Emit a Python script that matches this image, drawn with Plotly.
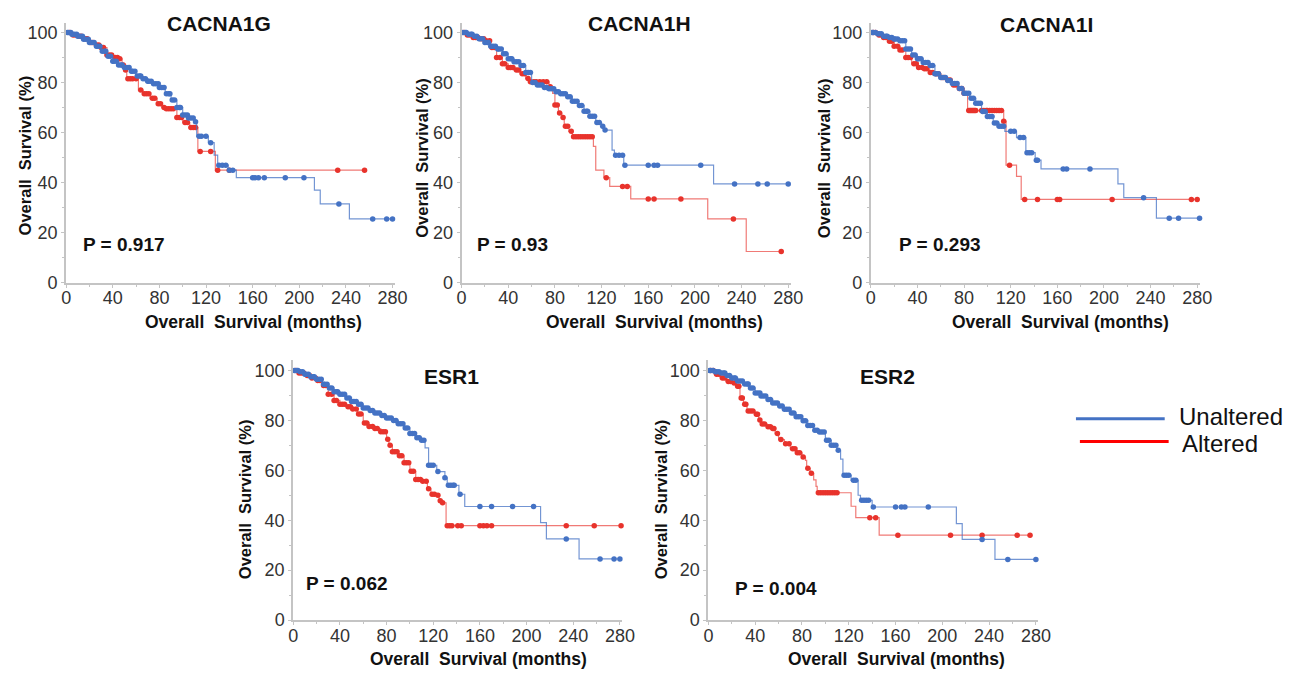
import numpy as np
import plotly.graph_objects as go

W, H = 1299, 680

genes = ["CACNA1G", "CACNA1H", "CACNA1I", "ESR1", "ESR2"]
p_values = ["P = 0.917", "P = 0.93", "P = 0.293", "P = 0.062", "P = 0.004"]
x_ticks = [0, 40, 80, 120, 160, 200, 240, 280]
y_ticks = [0, 20, 40, 60, 80, 100]

# ---------------- CACNA1G ----------------
g_unalt_t = [0,5,10,15,20,25,30,35,40,45,50,55,60,65,70,75,80,85,90,95,100,105,110,112,122,127,130,139,146,213,218,243]
g_unalt_s = [100,99.3,98.5,97.3,96,94.5,92.5,90.5,88.5,87,86,84.5,82.6,81.5,80.5,79.5,78,75.5,73,70,67,65.8,64.3,58.5,56,51,47,45,42,37,31.5,25.5]
g_unalt_c = [1,2,4,5,7,9,10,12,14,15,17,19,20,22,24,26,27,29,31,33,34,36,38,40,41,43,45,47,48,50,52,54,56,57,59,61,63,64,66,68,70,71,73,75,77,79,80,82,84,86,88,89,91,93,95,97,98,100,102,104,105,107,109,111,114,116,120,124,131,134,137,140,143,160,162,165,170,188,204,234,263,275,280]
g_alt_t = [0,5,10,15,20,25,30,35,40,45,48,50,52,62,66,72,78,82,86,95,100,106,113,128]
g_alt_s = [100,99,98.5,97.5,96,95,94,91,90,89.5,87,85,81.5,77,75.5,73.7,71.5,70,69.5,66,64,62,52.5,45]
g_alt_c = [3,6,8,11,13,16,18,21,23,26,28,30,32,35,37,39,42,44,46,49,51,53,55,57,60,64,67,69,71,74,76,79,81,84,86,88,90,92,95,97,99,102,104,107,109,111,115,124,130,140,233,256]

# ---------------- CACNA1H ----------------
h_unalt_t = [0,5,10,15,20,25,30,35,40,45,50,55,60,65,70,75,80,85,90,95,100,105,110,115,120,122,129,131,139,216]
h_unalt_s = [100,99.3,98.5,97.5,96,94.5,93.4,91.5,89.5,88.3,86.8,84,80,79,78,77.5,76.3,75.5,74.3,72.5,70.8,68.5,66.5,64,62.5,61,53,51,47,39.5]
h_unalt_c = [1,3,4,6,8,9,11,13,15,16,18,20,22,23,25,27,29,31,32,34,36,38,40,42,43,45,47,49,51,53,55,57,59,61,63,65,67,69,71,73,75,77,79,81,83,85,87,89,91,93,95,97,99,101,103,105,107,108,110,112,114,116,118,121,123,132,135,138,140,160,165,168,205,234,254,262,280]
h_alt_t = [0,5,10,15,20,25,30,35,40,45,50,55,58,75,78,80,83,86,88,92,95,113,115,122,127,145,211,244]
h_alt_s = [100,99,98,97.5,96.7,94,90,87.5,86,85,83.5,81.6,80.3,78.3,75.7,71,67.8,66,62.5,60.5,58.3,54.5,45,42,38.5,33.5,25.5,12.5]
h_alt_c = [2,5,7,10,12,14,17,19,21,24,26,28,30,33,35,37,40,42,44,47,49,52,54,57,59,62,64,67,70,73,76,80,82,84,87,89,91,94,96,98,100,102,104,106,108,110,112,124,138,142,160,165,188,233,274]

# ---------------- CACNA1I ----------------
i_unalt_t = [0,5,10,15,20,25,30,35,40,45,50,55,60,65,70,75,80,85,90,95,100,105,110,115,125,133,141,146,212,217,245]
i_unalt_s = [100,99.5,98.5,98,97.4,96.7,93.4,91,89.5,88,86.8,83.5,82,80.8,79.6,77.6,75.7,73.7,71.7,68.4,66.4,63.8,62.5,60.5,58,52,49,45.5,39.5,34,25.8]
i_unalt_c = [1,2,4,6,7,9,11,13,14,16,18,20,21,23,25,27,29,30,32,34,36,38,40,41,43,45,47,49,51,53,55,56,58,60,62,64,66,68,70,72,74,76,78,80,82,84,86,88,90,92,94,96,98,100,102,104,106,108,110,112,114,120,123,128,131,134,136,138,142,143,165,168,188,234,256,264,282]
i_alt_t = [0,5,10,15,20,25,30,35,40,45,50,55,60,65,70,75,80,83,114,116,125,129]
i_alt_s = [100,99,98,96.5,94.5,93,90,87.5,86,85.5,84,83.5,82,81,79,77.6,75.7,68.8,64.5,47,42.5,33.3]
i_alt_c = [2,4,7,9,11,13,16,18,20,23,25,27,30,32,34,37,39,41,44,46,48,51,53,56,58,61,63,66,68,71,73,76,78,80,84,85,86,87,88,89,90,95,97,99,100,102,104,106,108,110,112,114,119,132,143,160,162,207,275,280]

# ---------------- ESR1 ----------------
e1_unalt_t = [0,5,10,15,20,25,30,35,40,45,50,55,60,65,70,75,80,85,90,95,100,105,110,113,116,123,130,132,142,147,212,217,245]
e1_unalt_s = [100,99.5,98.5,97.5,96.5,94.5,93,91.5,90.5,89,87.6,86.5,85,84,83,82,81,80,78.7,77,74.7,73,72,69,62,59.5,57,54,50.4,45.5,39,32.5,24.5]
e1_unalt_c = [1,3,4,6,8,10,11,13,15,17,18,20,22,24,26,27,29,31,33,35,37,38,40,42,44,46,48,50,52,54,56,58,60,62,64,66,68,70,72,74,76,78,80,82,84,86,88,90,92,94,96,98,100,102,104,106,108,110,112,116,118,120,124,130,133,135,137,138,143,160,170,188,206,234,263,275,280]
e1_alt_t = [0,5,10,15,20,25,30,35,40,45,50,55,60,65,70,75,80,82,85,90,95,100,105,110,115,118,122,125,128,131]
e1_alt_s = [100,99,98,97,96,94,90.5,88,86.5,85.5,84.6,82.6,79,77.6,76.7,75.4,72.4,70,67.4,65.8,63,59.6,56.3,55.6,52.6,50.4,50,47.8,47,37.8]
e1_alt_c = [2,5,7,9,12,14,16,19,21,23,26,28,30,33,35,37,40,42,44,47,49,51,54,56,58,61,63,65,68,70,72,75,77,79,81,83,85,87,89,91,93,95,97,99,101,103,105,107,109,111,114,116,119,121,124,126,128,132,134,136,141,144,160,163,166,170,234,258,281]

# ---------------- ESR2 ----------------
e2_unalt_t = [0,5,10,15,20,25,30,35,40,45,50,55,60,65,70,75,80,85,90,95,100,105,110,113,115,122,128,130,140,212,217,245]
e2_unalt_s = [100,99.5,99,98,97,95.8,94.6,93,91,89.8,88.4,87,85.8,84.5,83,81.5,79.9,78,76,75.3,72,70,68,64.5,58,56,50,48,45.3,38.6,32.3,24.3]
e2_unalt_c = [1,2,4,6,7,9,11,13,14,16,18,20,22,23,25,27,29,31,33,34,36,38,40,42,44,45,47,49,51,53,55,57,59,61,63,65,67,69,71,73,75,77,79,81,83,85,87,89,91,93,95,97,99,101,103,105,107,109,111,116,118,120,124,126,131,133,135,137,141,160,165,168,188,234,256,280]
e2_alt_t = [0,5,10,15,20,24,27,30,33,40,43,45,50,55,57,60,65,70,75,80,83,84,87,90,92,93,122,126,146]
e2_alt_s = [100,98.5,97,95.6,95,93.7,89,86.5,83.8,82.5,80.2,78.6,77.5,76.7,74.7,72.3,70.6,68.6,67,65.3,64,60.8,58.8,56.2,53.6,51,45.6,41,34]
e2_alt_c = [2,4,7,9,12,14,17,19,22,25,26,28,29,31,32,34,36,38,41,42,44,46,48,51,53,55,56,59,62,66,69,72,74,76,78,81,85,88,94,96,98,100,102,104,106,108,110,138,143,162,207,234,264,275]

panels = [
    (g_unalt_t, g_unalt_s, g_unalt_c, g_alt_t, g_alt_s, g_alt_c),
    (h_unalt_t, h_unalt_s, h_unalt_c, h_alt_t, h_alt_s, h_alt_c),
    (i_unalt_t, i_unalt_s, i_unalt_c, i_alt_t, i_alt_s, i_alt_c),
    (e1_unalt_t, e1_unalt_s, e1_unalt_c, e1_alt_t, e1_alt_s, e1_alt_c),
    (e2_unalt_t, e2_unalt_s, e2_unalt_c, e2_alt_t, e2_alt_s, e2_alt_c),
]

# ---- layout geometry (pixels) ----
# (x of t=0, px per month, y of 0%, px per %)
geom = [
    (62.0, 1.182, 287.0, 2.54),
    (463.0, 1.183, 287.0, 2.54),
    (878.0, 1.182, 287.0, 2.54),
    (292.3, 1.183, 629.3, 2.533),
    (713.3, 1.186, 629.3, 2.533),
]
X_MAX, Y_MAX = 282, 104
title_pos = [(217, 24), (643, 24), (1056, 25), (453, 382), (895, 382)]
xtitle_pos = [(252, 327), (659, 327), (1070, 327), (480, 669), (904, 669)]
ytitle_pos = [(20, 158), (422, 160), (830, 160), (243, 507), (665, 507)]
p_pos = [(77, 248), (477, 248), (905, 248), (303, 592), (738, 597)]

BLUE = "#4472C4"
RED = "#E8332C"
BLUE_LINE = "rgba(68,114,196,0.75)"
RED_LINE = "rgba(232,51,44,0.65)"
FONT = "Liberation Sans, Arial, sans-serif"

fig = go.Figure()
annotations = []
shapes = []

def step_xy(t, s, c):
    t = list(t); s = list(s)
    end = max(c[-1] if c else t[-1], t[-1])
    return t + [end], s + [s[-1]]

def censor_y(t, s, c):
    idx = np.searchsorted(np.array(t, dtype=float), np.array(c, dtype=float), side="right") - 1
    return [s[i] for i in idx]

axis_common = dict(
    showline=True, linecolor="#c4c4c4", linewidth=2, showgrid=False, zeroline=False,
    ticks="outside", ticklen=3, tickwidth=1, tickcolor="#c4c4c4",
    tickfont=dict(family=FONT, size=18, color="#333333"),
    fixedrange=True,
)

for k, (ut, us, uc, at, as_, ac) in enumerate(panels):
    n = "" if k == 0 else str(k + 1)
    xa, ya = "x" + n, "y" + n
    x0, sx, y0, sy = geom[k]
    xdom = [x0 / W, (x0 + X_MAX * sx) / W]
    ydom = [1 - y0 / H, 1 - (y0 - Y_MAX * sy) / H]

    fig.update_layout(**{
        "xaxis" + n: dict(axis_common, domain=xdom, range=[0, X_MAX], anchor=ya,
                          tickvals=x_ticks, ticklabelstandoff=-5,
                          minor=dict(dtick=20, ticks="outside", ticklen=2, tickcolor="#c4c4c4")),
        "yaxis" + n: dict(axis_common, domain=ydom, range=[0, Y_MAX], anchor=xa,
                          tickvals=y_ticks, ticklabelstandoff=0,
                          minor=dict(dtick=10, ticks="outside", ticklen=2, tickcolor="#c4c4c4")),
    })

    for (tt, ss, cc, lc, mc, name) in [(at, as_, ac, RED_LINE, RED, "Altered"),
                                        (ut, us, uc, BLUE_LINE, BLUE, "Unaltered")]:
        lx, ly = step_xy(tt, ss, cc)
        fig.add_trace(go.Scatter(x=lx, y=ly, mode="lines", line=dict(color=lc, width=1.2, shape="hv"),
                                 xaxis=xa, yaxis=ya, showlegend=False, name=name, hoverinfo="skip"))
        fig.add_trace(go.Scatter(x=cc, y=censor_y(tt, ss, cc), mode="markers",
                                 marker=dict(color=mc, size=5.5, symbol="circle", line=dict(width=0)),
                                 xaxis=xa, yaxis=ya, showlegend=False, name=name + " censored",
                                 cliponaxis=False))

    tx, ty = title_pos[k]
    annotations.append(dict(text="<b>%s</b>" % genes[k], x=tx / W, y=1 - ty / H, xref="paper", yref="paper",
                            showarrow=False, xanchor="center", yanchor="middle",
                            font=dict(family=FONT, size=21, color="#111")))
    tx, ty = xtitle_pos[k]
    annotations.append(dict(text="<b>Overall\u00a0 Survival (months)</b>", x=tx / W, y=1 - ty / H,
                            xref="paper", yref="paper", showarrow=False, xanchor="center", yanchor="middle",
                            font=dict(family=FONT, size=17.5, color="#111")))
    tx, ty = ytitle_pos[k]
    annotations.append(dict(text="<b>Overall\u00a0 Survival (%)</b>", x=tx / W, y=1 - ty / H,
                            xref="paper", yref="paper", showarrow=False, xanchor="center", yanchor="middle",
                            textangle=-90,
                            font=dict(family=FONT, size=16.5, color="#111")))
    tx, ty = p_pos[k]
    annotations.append(dict(text="<b>%s</b>" % p_values[k], x=tx / W, y=1 - ty / H,
                            xref="paper", yref="paper", showarrow=False, xanchor="left", yanchor="middle",
                            font=dict(family=FONT, size=19, color="#111")))

# legend (drawn manually for long line samples)
legend_items = [("Unaltered", "#4472C4", 1086, 1176, 425, 1188, 423),
                ("Altered", "#FF0000", 1090, 1180, 448, 1192, 450)]
for label, col, lx0, lx1, ly, txx, tyy in legend_items:
    shapes.append(dict(type="line", xref="paper", yref="paper", x0=lx0 / W, x1=lx1 / W,
                       y0=1 - ly / H, y1=1 - ly / H, line=dict(color=col, width=3)))
    annotations.append(dict(text=label, x=txx / W, y=1 - tyy / H, xref="paper", yref="paper",
                            showarrow=False, xanchor="left", yanchor="middle",
                            font=dict(family=FONT, size=24, color="#111")))

fig.update_layout(width=W, height=H, margin=dict(l=0, r=0, t=0, b=0),
                  paper_bgcolor="white", plot_bgcolor="white",
                  annotations=annotations, shapes=shapes, showlegend=False)

fig.write_html("out.html", config={"displayModeBar": False},
               post_script="document.body.style.margin='0';")
